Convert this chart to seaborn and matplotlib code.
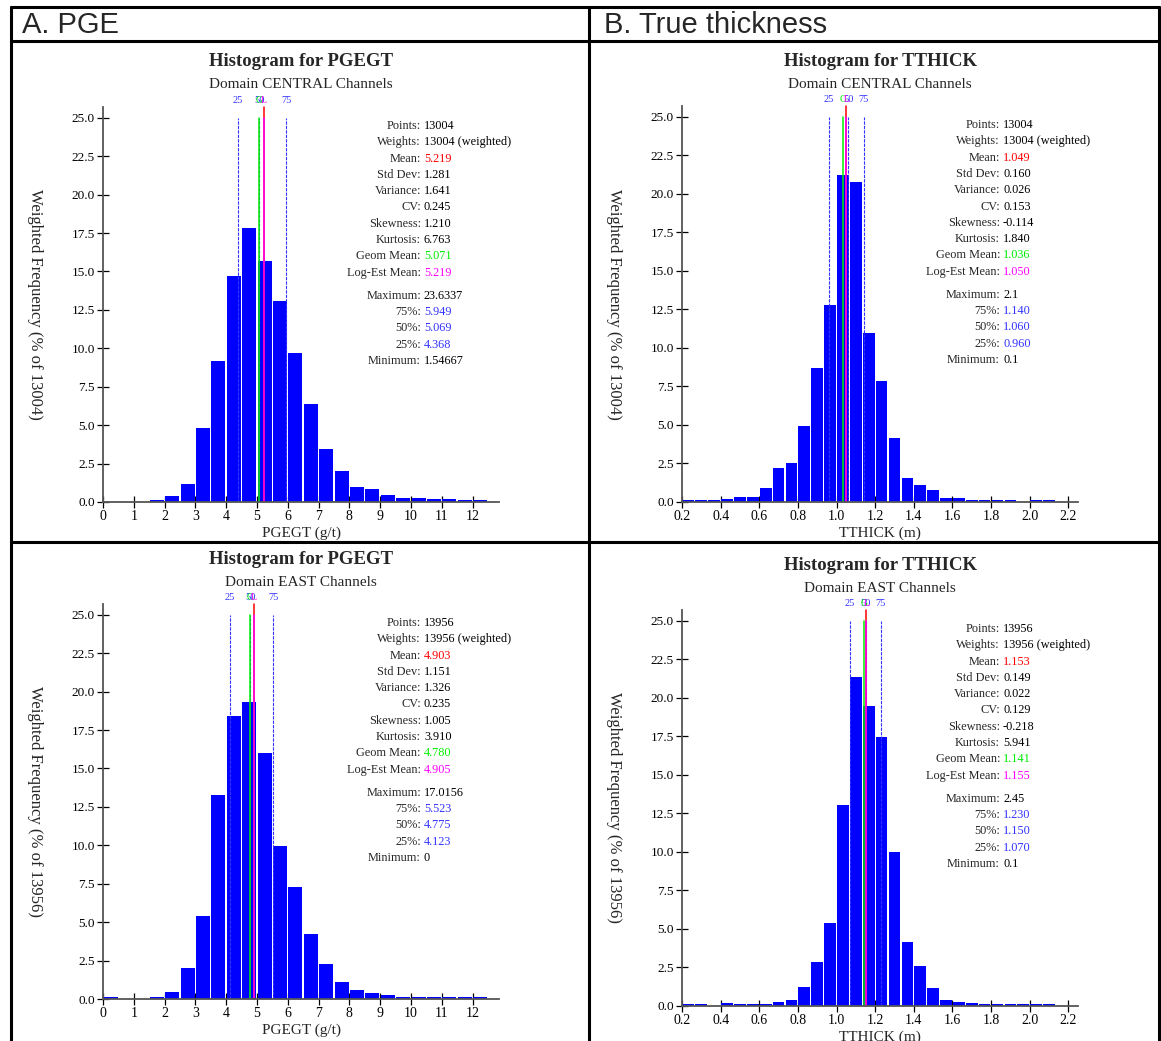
import numpy as np
import pandas as pd
import matplotlib
matplotlib.use("Agg")
import matplotlib.pyplot as plt
from matplotlib.lines import Line2D
import seaborn as sns

# bar heights (weighted frequency, %)
pge_central = [0, 0, 0, 0.1, 0.37, 1.2, 4.8, 9.15, 14.7, 17.8, 15.66, 13.1, 9.67,
               6.36, 3.43, 2.0, 0.95, 0.82, 0.43, 0.24, 0.24, 0.17, 0.17, 0.1, 0.1]
pge_east = [0.1, 0, 0, 0.1, 0.43, 2.0, 5.4, 13.27, 18.4, 19.32, 16.0, 9.95, 7.29,
            4.23, 2.28, 1.1, 0.59, 0.39, 0.26, 0.15, 0.1, 0.1, 0.1, 0.1, 0.1]
thick_central = [0.1, 0.1, 0.1, 0.2, 0.32, 0.32, 0.91, 2.18, 2.5, 4.9, 8.7, 12.76,
                 21.2, 20.8, 10.94, 7.83, 4.13, 1.54, 1.08, 0.76, 0.26, 0.26, 0.1,
                 0.1, 0.1, 0.1, 0, 0.1, 0.1, 0]
thick_east = [0.1, 0.1, 0, 0.18, 0.1, 0.15, 0.15, 0.28, 0.41, 1.26, 2.88, 5.36,
              13.07, 21.36, 19.5, 17.43, 10.02, 4.16, 2.6, 1.19, 0.41, 0.28, 0.22,
              0.15, 0.1, 0.1, 0.1, 0.1, 0.1, 0]

pge_edges = np.linspace(0, 12.5, 26)      # 0.5 wide bins
thick_edges = np.linspace(0.2, 2.2, 31)   # 1/15 wide bins

pge_ticks = [0, 1, 2, 3, 4, 5, 6, 7, 8, 9, 10, 11, 12]
thick_ticks = [0.2, 0.4, 0.6, 0.8, 1.0, 1.2, 1.4, 1.6, 1.8, 2.0, 2.2]
y_ticks = [0, 2.5, 5, 7.5, 10, 12.5, 15, 17.5, 20, 22.5, 25]

stat_names = ["Points:", "Weights:", "Mean:", "Std Dev:", "Variance:", "CV:",
              "Skewness:", "Kurtosis:", "Geom Mean:", "Log-Est Mean:",
              "Maximum:", "75%:", "50%:", "25%:", "Minimum:"]
stat_colors = ["black", "black", "red", "black", "black", "black", "black", "black",
               "#00ee00", "#ff00ff", "black", "#3333ff", "#3333ff", "#3333ff", "black"]

stats_pge_central = ["13004", "13004 (weighted)", "5.219", "1.281", "1.641", "0.245",
                     "1.210", "6.763", "5.071", "5.219", "23.6337", "5.949", "5.069",
                     "4.368", "1.54667"]
stats_thick_central = ["13004", "13004 (weighted)", "1.049", "0.160", "0.026", "0.153",
                       "-0.114", "1.840", "1.036", "1.050", "2.1", "1.140", "1.060",
                       "0.960", "0.1"]
stats_pge_east = ["13956", "13956 (weighted)", "4.903", "1.151", "1.326", "0.235",
                  "1.005", "3.910", "4.780", "4.905", "17.0156", "5.523", "4.775",
                  "4.123", "0"]
stats_thick_east = ["13956", "13956 (weighted)", "1.153", "0.149", "0.022", "0.129",
                    "-0.218", "5.941", "1.141", "1.155", "2.45", "1.230", "1.150",
                    "1.070", "0.1"]

W, H = 1161, 1041
sns.set_theme(style="ticks")
plt.rcParams["font.family"] = ["Liberation Serif", "DejaVu Serif"]

fig = plt.figure(figsize=(W / 100, H / 100), dpi=100)
fig.patch.set_facecolor("white")


def fx(x):
    return x / W


def fy(y):
    return 1 - y / H


def panel(box, heights, edges, ticks, xmax, stats, var, domain, xlabel):
    l, t, r, b = box
    ax = fig.add_axes([fx(l), fy(b), (r - l) / W, (b - t) / H])
    df = pd.DataFrame({"center": (edges[:-1] + edges[1:]) / 2, "pct": heights})
    sns.histplot(data=df, x="center", weights="pct", bins=list(edges), ax=ax,
                 color="#0000ff", alpha=1, linewidth=0, shrink=0.91)
    ax.set_facecolor("white")
    ax.set_xlim(edges[0], xmax)
    ax.set_ylim(0, 25.7)
    ax.set_xticks(ticks)
    ax.set_yticks(y_ticks)
    if ticks[1] < 1:
        ax.set_xticklabels([f"{v:.1f}" for v in ticks])
    else:
        ax.set_xticklabels([str(v) for v in ticks])
    ax.set_yticklabels([f"{v:.1f}" for v in y_ticks])
    ax.tick_params(direction="inout", length=8, width=0.9, colors="black",
                   labelsize=10, pad=2)
    ax.tick_params(axis="y", labelsize=9.5)
    sns.despine(ax=ax)
    for s in ["left", "bottom"]:
        ax.spines[s].set_color("#555555")
        ax.spines[s].set_linewidth(1.3)
    ax.set_ylabel(f"Weighted Frequency (% of {stats[0]})", rotation=270,
                  fontsize=12, va="center", ha="center")
    ax.yaxis.set_label_coords(-68 / (r - l), 0.5)
    ax.set_xlabel(xlabel, fontsize=11, va="center")
    ax.xaxis.set_label_coords(0.5, -31 / (b - t))
    ax.grid(False)

    mean, geo, loge = float(stats[2]), float(stats[8]), float(stats[9])
    q75, q50, q25 = float(stats[11]), float(stats[12]), float(stats[13])
    for q in (q25, q50, q75):
        ax.plot([q, q], [0, 25], color="#3333ff", lw=0.8, ls=(0, (3, 1)))
    ax.plot([geo, geo], [0, 25], color="#00ee00", lw=1.1)
    ax.plot([mean, mean], [0, 25.7], color="red", lw=1.1, clip_on=False)
    ax.plot([loge, loge], [0, 25], color="#ff00ff", lw=1.1)
    ly = 25 + 17 / ((b - t) / 25.7)
    for q, s in ((q25, "25"), (q50, "50"), (q75, "75")):
        ax.text(q, ly, s, color="#3333ff", fontsize=7.5, ha="center", va="center",
                clip_on=False)
    ax.text(geo, ly, "G", color="#00ee00", fontsize=7, ha="center", va="center",
            clip_on=False)
    ax.text(loge, ly, "L", color="#ff00ff", fontsize=7, ha="center", va="center",
            clip_on=False)

    cx = (l + r) / 2
    fig.text(fx(cx), fy(t - 45), f"Histogram for {var}", fontsize=13.5,
             fontweight="bold", ha="center", va="center")
    fig.text(fx(cx), fy(t - 22), f"Domain {domain} Channels", fontsize=11,
             ha="center", va="center")

    y = t + 19
    for i, (name, val, col) in enumerate(zip(stat_names, stats, stat_colors)):
        if i == 10:
            y += 6.7
        fig.text(fx(l + 318), fy(y), name, fontsize=8.8, ha="right", va="center")
        fig.text(fx(l + 321), fy(y), val, fontsize=8.8, ha="left", va="center",
                 color=col)
        y += 16.3
    return ax


panel((103, 107, 499, 502), pge_central, pge_edges, pge_ticks, 12.86,
      stats_pge_central, "PGEGT", "CENTRAL", "PGEGT (g/t)")
panel((682, 106, 1078, 502), thick_central, thick_edges, thick_ticks, 2.25,
      stats_thick_central, "TTHICK", "CENTRAL", "TTHICK (m)")
panel((103, 604, 499, 999), pge_east, pge_edges, pge_ticks, 12.86,
      stats_pge_east, "PGEGT", "EAST", "PGEGT (g/t)")
panel((682, 610, 1078, 1006), thick_east, thick_edges, thick_ticks, 2.25,
      stats_thick_east, "TTHICK", "EAST", "TTHICK (m)")

# table frame around the four panels
frame = [((11, 7), (1159, 7)), ((11, 41), (1159, 41)), ((11, 542), (1159, 542)),
         ((11, 7), (11, 1041)), ((589, 7), (589, 1041)), ((1159, 7), (1159, 1041))]
for (x0, y0), (x1, y1) in frame:
    fig.add_artist(Line2D([fx(x0), fx(x1)], [fy(y0), fy(y1)], color="black",
                          lw=2.2, transform=fig.transFigure))

fig.text(fx(22), fy(25), "A. PGE", fontsize=21, family="Liberation Sans",
         ha="left", va="center")
fig.text(fx(604), fy(25), "B. True thickness", fontsize=21,
         family="Liberation Sans", ha="left", va="center")

fig.savefig("out.png", dpi=100, facecolor="white")
